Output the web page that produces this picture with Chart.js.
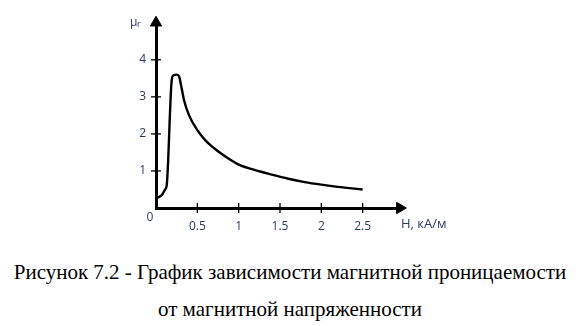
<!DOCTYPE html>
<html>
<head>
<meta charset="utf-8">
<script src="https://cdn.jsdelivr.net/npm/chart.js@4.4.0/dist/chart.umd.min.js"></script>
<style>
  html, body { margin: 0; padding: 0; background: #fff; }
  #wrap { position: relative; width: 580px; height: 240px; }
  #muChart { position: relative; z-index: 1; }
  .axis { position: absolute; background: #000; z-index: 0; }
  .caption {
    font-family: 'Liberation Serif', 'Times New Roman', serif;
    font-size: 21px;
    color: #000;
    text-align: center;
    width: 580px;
    line-height: 37px;
    margin-top: 14px;
  }
</style>
</head>
<body>
<div id="wrap">
  <div class="axis" id="axisX"></div>
  <div class="axis" id="axisY"></div>
  <canvas id="muChart" width="580" height="240"></canvas>
</div>
<div class="caption">Рисунок 7.2 - График зависимости магнитной проницаемости<br>от магнитной напряженности</div>
<script>
// Данные кривой μr(H)
const hValues = [0, 0.04, 0.08, 0.11, 0.13, 0.19, 0.21, 0.25, 0.28, 0.30, 0.34, 0.40, 0.50, 0.60, 0.70, 0.80, 0.90, 1.00, 1.20, 1.40, 1.60, 1.80, 2.00, 2.20, 2.50];
const muValues = [0.27, 0.30, 0.38, 0.50, 0.62, 3.45, 3.58, 3.60, 3.55, 3.35, 2.90, 2.50, 2.10, 1.82, 1.62, 1.45, 1.30, 1.17, 1.02, 0.90, 0.79, 0.70, 0.63, 0.57, 0.50];
const xTicks = [0.5, 1, 1.5, 2, 2.5];
const yTicks = [1, 2, 3, 4];
const xMax = 3;
const yMax = 5.15;

const labelColor = '#2c3a63';

// Подписи осей
const axisTitlesPlugin = {
    id: 'axisTitles',
    afterDraw(chart) {
        const ctx = chart.ctx;
        const x0 = chart.scales.x.getPixelForValue(0);
        const y0 = chart.scales.y.getPixelForValue(0);
        const xEnd = chart.chartArea.right;
        const yEnd = chart.chartArea.top;
        ctx.save();
        ctx.fillStyle = labelColor;
        ctx.textBaseline = 'middle';
        ctx.textAlign = 'center';
        ctx.font = '12px "Open Sans", sans-serif';
        ctx.fillText('0', x0 - 6, y0 + 10);
        ctx.textAlign = 'left';
        ctx.font = '13px "Open Sans", sans-serif';
        ctx.fillText('H, кА/м', xEnd - 3, y0 + 16);
        ctx.font = '12px "Open Sans", sans-serif';
        ctx.fillText('μ', x0 - 26, yEnd + 5);
        ctx.font = '9px "Open Sans", sans-serif';
        ctx.fillText('r', x0 - 19, yEnd + 7);
        ctx.restore();
    }
};

const points = hValues.map((h, i) => ({ x: h, y: muValues[i] }));
// засечки, пересекающие оси
const tickMarks = xTicks.map(v => ({ x: v, y: 0 })).concat(yTicks.map(v => ({ x: 0, y: v })));
const tickRotation = xTicks.map(() => 90).concat(yTicks.map(() => 0));
// стрелки на концах осей
const arrowPoints = [{ x: 0, y: yMax - 0.15 }, { x: xMax - 0.05, y: 0 }];

const chart = new Chart(document.getElementById('muChart'), {
    type: 'line',
    data: {
        datasets: [{
            data: points,
            borderColor: '#000',
            borderWidth: 2.4,
            pointRadius: 0,
            fill: false,
            cubicInterpolationMode: 'monotone'
        }, {
            data: arrowPoints,
            showLine: false,
            pointStyle: 'triangle',
            pointRotation: [0, 90],
            pointRadius: 6.5,
            pointBackgroundColor: '#000',
            pointBorderColor: '#000',
            pointBorderWidth: 1,
            clip: false
        }, {
            data: tickMarks,
            showLine: false,
            pointStyle: 'line',
            pointRotation: tickRotation,
            pointRadius: 5,
            pointBorderColor: '#000',
            pointBorderWidth: 1.3,
            clip: false
        }]
    },
    options: {
        responsive: false,
        animation: false,
        events: [],
        layout: { padding: { top: 8, right: 176, bottom: 0, left: 0 } },
        plugins: { legend: { display: false }, tooltip: { enabled: false } },
        scales: {
            x: {
                type: 'linear',
                min: 0,
                max: xMax,
                border: { display: false },
                grid: { display: false, drawTicks: false },
                afterFit(scale) { scale.height = 32; },
                afterBuildTicks(scale) { scale.ticks = xTicks.map(v => ({ value: v })); },
                ticks: {
                    color: labelColor,
                    font: { family: 'Open Sans', size: 12 },
                    padding: 11,
                    maxRotation: 0,
                    autoSkip: false,
                    callback: v => String(v)
                }
            },
            y: {
                min: 0,
                max: yMax,
                border: { display: false },
                grid: { display: false, drawTicks: false },
                afterFit(scale) { scale.width = 156; },
                afterBuildTicks(scale) { scale.ticks = yTicks.map(v => ({ value: v })); },
                ticks: {
                    color: labelColor,
                    font: { family: 'Open Sans', size: 12 },
                    padding: 10,
                    callback: v => String(v)
                }
            }
        }
    },
    plugins: [axisTitlesPlugin]
});

// линии осей по шкалам графика
const x0 = chart.scales.x.getPixelForValue(0);
const y0 = chart.scales.y.getPixelForValue(0);
const xArrow = chart.scales.x.getPixelForValue(xMax - 0.05);
const yArrow = chart.scales.y.getPixelForValue(yMax - 0.15);
const axisX = document.getElementById('axisX');
axisX.style.left = (x0 - 1.5) + 'px';
axisX.style.top = (y0 - 1.5) + 'px';
axisX.style.width = (xArrow - x0) + 'px';
axisX.style.height = '3px';
const axisY = document.getElementById('axisY');
axisY.style.left = (x0 - 1.5) + 'px';
axisY.style.top = yArrow + 'px';
axisY.style.width = '3px';
axisY.style.height = (y0 + 1.5 - yArrow) + 'px';
</script>
</body>
</html>
